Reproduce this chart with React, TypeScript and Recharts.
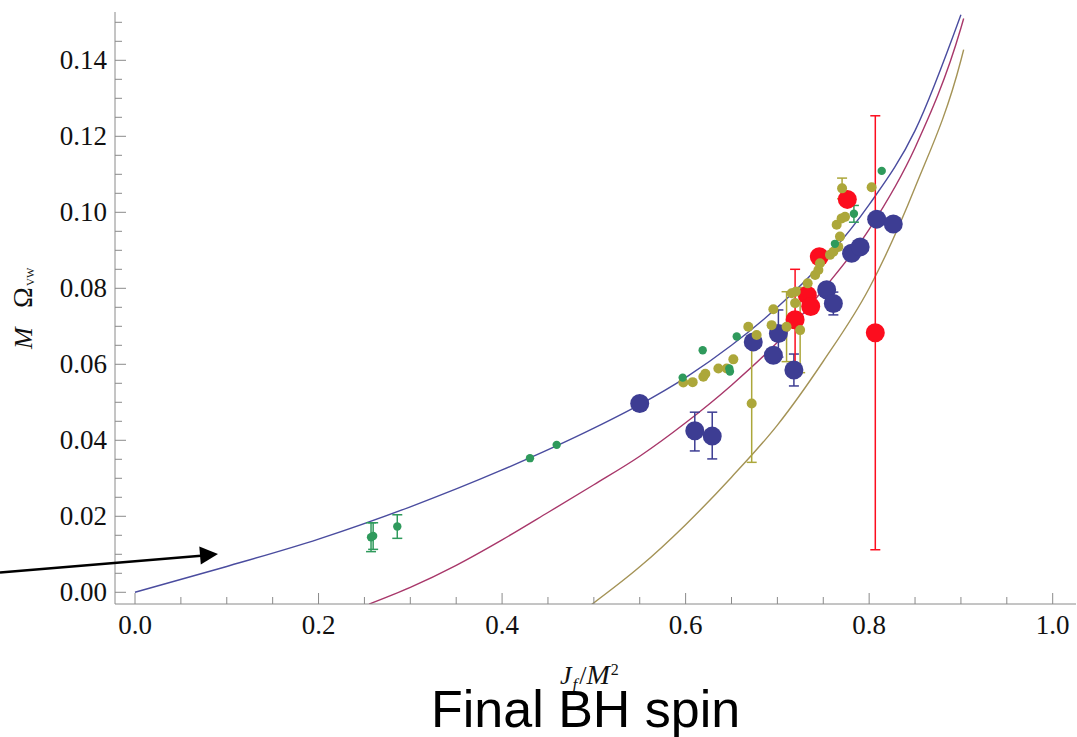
import React from 'react'
import { ComposedChart, Line, Scatter, XAxis, YAxis, ErrorBar } from 'recharts'

// tick values (majors get labels)
const xTicks = [0, 0.05, 0.1, 0.15, 0.2, 0.25, 0.3, 0.35, 0.4, 0.45, 0.5, 0.55, 0.6, 0.65, 0.7, 0.75, 0.8, 0.85, 0.9, 0.95, 1.0]
const yTicks = [0, 0.005, 0.01, 0.015, 0.02, 0.025, 0.03, 0.035, 0.04, 0.045, 0.05, 0.055, 0.06, 0.065, 0.07, 0.075,
  0.08, 0.085, 0.09, 0.095, 0.1, 0.105, 0.11, 0.115, 0.12, 0.125, 0.13, 0.135, 0.14, 0.145, 0.15]

// model curves
const blueCurve = [
  { x: 0, y: 0 }, { x: 0.1, y: 0.0068 }, { x: 0.2, y: 0.014 }, { x: 0.3, y: 0.0225 }, { x: 0.4, y: 0.0322 },
  { x: 0.5, y: 0.0432 }, { x: 0.55, y: 0.0494 }, { x: 0.6, y: 0.0565 }, { x: 0.65, y: 0.065 }, { x: 0.7, y: 0.075 },
  { x: 0.75, y: 0.087 }, { x: 0.8, y: 0.102 }, { x: 0.85, y: 0.1215 }, { x: 0.9, y: 0.152 },
]
const redCurve = [
  { x: 0.255, y: -0.0031 }, { x: 0.3, y: 0.0013 }, { x: 0.35, y: 0.0071 }, { x: 0.4, y: 0.0138 }, { x: 0.45, y: 0.021 },
  { x: 0.5, y: 0.0283 }, { x: 0.55, y: 0.0358 }, { x: 0.6, y: 0.0446 }, { x: 0.65, y: 0.0545 }, { x: 0.7, y: 0.0658 },
  { x: 0.75, y: 0.0797 }, { x: 0.8, y: 0.0955 }, { x: 0.85, y: 0.117 }, { x: 0.9, y: 0.1485 }, { x: 0.903, y: 0.151 },
]
const goldCurve = [
  { x: 0.496, y: -0.0035 }, { x: 0.55, y: 0.0067 }, { x: 0.6, y: 0.0178 }, { x: 0.65, y: 0.0303 }, { x: 0.7, y: 0.044 },
  { x: 0.75, y: 0.0608 }, { x: 0.8, y: 0.08 }, { x: 0.85, y: 0.1065 }, { x: 0.9, y: 0.14 }, { x: 0.903, y: 0.1428 },
]

// simulation points; err = [below, above] or symmetric
const bluePoints = [
  { x: 0.55, y: 0.0497 }, { x: 0.61, y: 0.0425, err: [0.0053, 0.0049] }, { x: 0.629, y: 0.0411, err: [0.006, 0.0063] },
  { x: 0.6737, y: 0.0659 }, { x: 0.6956, y: 0.0624 }, { x: 0.7011, y: 0.0681, err: 0.0062 },
  { x: 0.718, y: 0.0585, err: 0.0042 }, { x: 0.7537, y: 0.0796 }, { x: 0.761, y: 0.076, err: 0.003 },
  { x: 0.7809, y: 0.0892 }, { x: 0.7902, y: 0.0909 }, { x: 0.8082, y: 0.0982 }, { x: 0.8263, y: 0.0969 },
]
const redPoints = [
  { x: 0.7457, y: 0.0883 }, { x: 0.7762, y: 0.1034 }, { x: 0.7326, y: 0.0782 }, { x: 0.7363, y: 0.0752 },
  { x: 0.7193, y: 0.0717, err: [0.0137, 0.0133] }, { x: 0.8067, y: 0.0683, err: 0.0571 },
]
const goldPoints = [
  { x: 0.5975, y: 0.0552 }, { x: 0.6077, y: 0.0553 }, { x: 0.6193, y: 0.0567 }, { x: 0.6215, y: 0.0575 },
  { x: 0.6357, y: 0.0589 }, { x: 0.6448, y: 0.0589 }, { x: 0.652, y: 0.0613 }, { x: 0.6683, y: 0.0699 },
  { x: 0.672, y: 0.0497, err: 0.0155 }, { x: 0.6774, y: 0.0677 }, { x: 0.6956, y: 0.0745 }, { x: 0.6937, y: 0.0703 },
  { x: 0.71, y: 0.0699, err: 0.0092 }, { x: 0.7193, y: 0.0761 }, { x: 0.7155, y: 0.0787 }, { x: 0.72, y: 0.0791 },
  { x: 0.7248, y: 0.069, err: 0.0112 }, { x: 0.733, y: 0.0813 }, { x: 0.7411, y: 0.0835 }, { x: 0.7447, y: 0.0848 },
  { x: 0.7464, y: 0.0866 }, { x: 0.7573, y: 0.0888 }, { x: 0.761, y: 0.0896 }, { x: 0.7664, y: 0.0909 },
  { x: 0.7682, y: 0.0936 }, { x: 0.7646, y: 0.0967 }, { x: 0.77, y: 0.0984 }, { x: 0.7737, y: 0.0988 },
  { x: 0.7705, y: 0.1063, err: 0.0027 }, { x: 0.8027, y: 0.1066 },
]
const greenPoints = [
  { x: 0.2572, y: 0.0145, err: 0.0038 }, { x: 0.2595, y: 0.0148, err: 0.0035 }, { x: 0.2858, y: 0.0173, err: 0.0031 },
  { x: 0.4304, y: 0.0353 }, { x: 0.4595, y: 0.0388 }, { x: 0.5968, y: 0.0565 }, { x: 0.6186, y: 0.0637 },
  { x: 0.6476, y: 0.0589 }, { x: 0.6483, y: 0.0581 }, { x: 0.6557, y: 0.0673 }, { x: 0.7627, y: 0.0917 },
  { x: 0.7834, y: 0.0996, err: 0.0022 }, { x: 0.8137, y: 0.1109 },
]

const SERIF = '"Liberation Serif", "Times New Roman", serif'
const AXIS = '#8a8a8a'
const BLUE_LINE = '#4a4c9f'
const RED_LINE = '#a8376a'
const GOLD_LINE = '#a49356'
const BLUE_DOT = '#3d3d93'
const RED_DOT = '#fc0d1e'
const GOLD_DOT = '#aca73a'
const GREEN_DOT = '#2f9a5c'

const isMajor = (v: number, step: number) => Math.abs(v / step - Math.round(v / step)) < 1e-6

const BottomTick = (p: any) => {
  const v = p.payload.value
  const major = isMajor(v, 0.2)
  return (
    <g>
      <line x1={p.x} x2={p.x} y1={p.y} y2={p.y - (major ? 11 : 7)} stroke={AXIS} />
      {major && (
        <text x={p.x} y={p.y + 30} textAnchor="middle" fontFamily={SERIF} fontSize={27} fill="#111">
          {v.toFixed(1)}
        </text>
      )}
    </g>
  )
}
const TopTick = (p: any) => {
  const major = isMajor(p.payload.value, 0.2)
  return <line x1={p.x} x2={p.x} y1={p.y} y2={p.y + (major ? 11 : 7)} stroke={AXIS} />
}
const LeftTick = (p: any) => {
  const v = p.payload.value
  const major = isMajor(v, 0.02)
  return (
    <g>
      <line x1={p.x} x2={p.x + (major ? 11 : 7)} y1={p.y} y2={p.y} stroke={AXIS} />
      {major && (
        <text x={p.x - 8} y={p.y + 9} textAnchor="end" fontFamily={SERIF} fontSize={27} fill="#111">
          {v.toFixed(2)}
        </text>
      )}
    </g>
  )
}
const RightTick = (p: any) => {
  const major = isMajor(p.payload.value, 0.02)
  return <line x1={p.x} x2={p.x - (major ? 11 : 7)} y1={p.y} y2={p.y} stroke={AXIS} />
}

const dot = (r: number, fill: string) => (p: any) => <circle cx={p.cx} cy={p.cy} r={r} fill={fill} />

const X_DOMAIN = [-0.0218, 1.0254]
const Y_DOMAIN = [-0.00308, 0.15271]

export default function App() {
  return (
    <div style={{ position: 'absolute', left: 0, top: 0, width: 1077, height: 737, background: '#fff' }}>
      <ComposedChart width={1077} height={737} margin={{ top: 12, right: 1, bottom: 73, left: 0 }}>
        <XAxis dataKey="x" type="number" domain={X_DOMAIN} allowDataOverflow ticks={xTicks} interval={0}
          height={60} tickSize={0} tickMargin={0} tickLine={false} tick={BottomTick}
          axisLine={{ stroke: AXIS }} />
        <XAxis xAxisId="top" orientation="top" dataKey="x" type="number" domain={X_DOMAIN} allowDataOverflow
          ticks={xTicks} interval={0} height={0} tickSize={0} tickMargin={0} tickLine={false} tick={TopTick}
          axisLine={{ stroke: AXIS }} />
        <YAxis dataKey="y" type="number" domain={Y_DOMAIN} allowDataOverflow ticks={yTicks} interval={0}
          width={115} tickSize={0} tickMargin={0} tickLine={false} tick={LeftTick} axisLine={{ stroke: AXIS }} />
        <YAxis yAxisId="right" orientation="right" dataKey="y" type="number" domain={Y_DOMAIN} allowDataOverflow
          ticks={yTicks} interval={0} width={0} tickSize={0} tickMargin={0} tickLine={false} tick={RightTick}
          axisLine={{ stroke: AXIS }} />

        <Line data={goldCurve} dataKey="y" type="monotone" stroke={GOLD_LINE} strokeWidth={1.4} dot={false} isAnimationActive={false} />
        <Line data={redCurve} dataKey="y" type="monotone" stroke={RED_LINE} strokeWidth={1.4} dot={false} isAnimationActive={false} />
        <Line data={blueCurve} dataKey="y" type="monotone" stroke={BLUE_LINE} strokeWidth={1.4} dot={false} isAnimationActive={false} />

        <Scatter data={bluePoints} shape={dot(9.5, BLUE_DOT)} isAnimationActive={false}>
          <ErrorBar dataKey="err" direction="y" width={5} stroke={BLUE_DOT} strokeWidth={1.5} />
        </Scatter>
        <Scatter data={redPoints} shape={dot(9.5, RED_DOT)} isAnimationActive={false}>
          <ErrorBar dataKey="err" direction="y" width={5} stroke={RED_DOT} strokeWidth={1.5} />
        </Scatter>
        <Scatter data={goldPoints} shape={dot(5, GOLD_DOT)} isAnimationActive={false}>
          <ErrorBar dataKey="err" direction="y" width={5} stroke={GOLD_DOT} strokeWidth={1.5} />
        </Scatter>
        <Scatter data={greenPoints} shape={dot(4.2, GREEN_DOT)} isAnimationActive={false}>
          <ErrorBar dataKey="err" direction="y" width={5} stroke={GREEN_DOT} strokeWidth={1.5} />
        </Scatter>
      </ComposedChart>

      <svg width={1077} height={737} style={{ position: 'absolute', left: 0, top: 0, pointerEvents: 'none' }}>
        {/* y axis title */}
        <text transform="translate(32,349) rotate(-90)" fontFamily={SERIF} fontSize={26} fill="#111">
          <tspan x={0} fontStyle="italic">M</tspan>
          <tspan x={41} fontSize={28}>Ω</tspan>
          <tspan x={63} dy={2} fontSize={11}>VW</tspan>
        </text>
        {/* x axis title */}
        <text x={560} y={684} fontFamily={SERIF} fontSize={26} fill="#111">
          <tspan fontStyle="italic">J</tspan>
          <tspan dy={6} dx={1} fontSize={17} fontStyle="italic">f</tspan>
          <tspan dy={-6} dx={2}>/</tspan>
          <tspan fontStyle="italic" fontSize={28}>M</tspan>
          <tspan dy={-9} dx={1} fontSize={16}>2</tspan>
        </text>
        <text x={431} y={727} fontFamily='"Liberation Sans", Arial, sans-serif' fontSize={52} fill="#000">
          Final BH spin
        </text>
        {/* arrow */}
        <line x1={0} y1={572.5} x2={204} y2={555.5} stroke="#000" strokeWidth={2.5} />
        <polygon points="218,554 200.8,564.5 199.3,546.5" fill="#000" />
      </svg>
    </div>
  )
}
